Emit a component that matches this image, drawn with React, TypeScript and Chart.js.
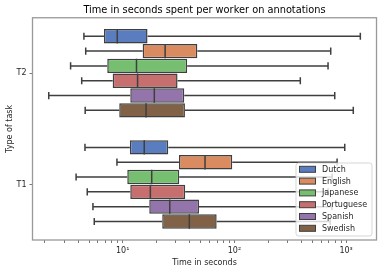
import React, { useEffect, useRef } from 'react';
import { Chart, registerables } from 'chart.js';

Chart.register(...registerables);

const chartTitle = 'Time in seconds spent per worker on annotations';
const xAxisTitle = 'Time in seconds';
const yAxisTitle = 'Type of task';

const tasks = ['T2', 'T1'];
const languages = ['Dutch', 'English', 'Japanese', 'Portuguese', 'Spanish', 'Swedish'];
const colors = ['#597dbf', '#da8b5f', '#76bf71', '#c76e6e', '#9475ab', '#826246'];

// T2 statistics per language
const lowT2 = [4.5, 4.67, 3.42, 4.3, 2.18, 4.62];
const q1T2 = [6.8, 15.1, 7.28, 8.14, 11.7, 9.32];
const medT2 = [8.95, 24.0, 13.3, 13.6, 19.2, 16.2];
const q3T2 = [16.7, 46.6, 37.8, 31.0, 35.6, 36.1];
const highT2 = [1340, 728, 689, 389, 791, 1159];

// T1 statistics per language
const lowT1 = [4.6, 8.89, 3.83, 4.82, 5.42, 5.57];
const q1T1 = [11.6, 31.9, 11.0, 11.7, 17.3, 22.6];
const medT1 = [15.6, 54.6, 18.2, 17.7, 26.4, 39.5];
const q3T1 = [25.6, 95.7, 32.1, 36.3, 48.2, 69.4];
const highT1 = [972, 830, 750, 690, 745, 720];

const xMin = 1.56;
const xMax = 1870;
const majorTicks = [10, 100, 1000];
const majorTickLabels = ['10¹', '10²', '10³'];
const minorTicks = [2, 3, 4, 5, 6, 7, 8, 9, 20, 30, 40, 50, 60, 70, 80, 90, 200, 300, 400, 500, 600, 700, 800, 900];

const EDGE = '#3f3f3f';
const FONT = 'DejaVu Sans';

const boxPlugin = {
  id: 'boxWhiskers',
  afterDatasetsDraw(chart: any) {
    const ctx = chart.ctx;
    const xs = chart.scales.x;
    chart.data.datasets.forEach((ds: any, i: number) => {
      const meta = chart.getDatasetMeta(i);
      meta.data.forEach((bar: any, j: number) => {
        const { y, height } = bar.getProps(['y', 'height'], true);
        const pLo = xs.getPixelForValue(ds.low[j]);
        const pQ1 = xs.getPixelForValue(ds.data[j][0]);
        const pQ3 = xs.getPixelForValue(ds.data[j][1]);
        const pHi = xs.getPixelForValue(ds.high[j]);
        const pMed = xs.getPixelForValue(ds.med[j]);
        const cap = height / 4;
        ctx.save();
        ctx.strokeStyle = EDGE;
        ctx.lineWidth = 1.5;
        ctx.beginPath();
        ctx.moveTo(pQ1, y);
        ctx.lineTo(pLo, y);
        ctx.moveTo(pLo, y - cap);
        ctx.lineTo(pLo, y + cap);
        ctx.moveTo(pQ3, y);
        ctx.lineTo(pHi, y);
        ctx.moveTo(pHi, y - cap);
        ctx.lineTo(pHi, y + cap);
        ctx.moveTo(pMed, y - height / 2);
        ctx.lineTo(pMed, y + height / 2);
        ctx.stroke();
        ctx.restore();
      });
    });
  },
};

const framePlugin = {
  id: 'frameAndLegend',
  afterDraw(chart: any) {
    const ctx = chart.ctx;
    const ca = chart.chartArea;
    ctx.save();
    ctx.strokeStyle = '#999999';
    ctx.lineWidth = 1.3;
    ctx.strokeRect(ca.left, ca.top, ca.right - ca.left, ca.bottom - ca.top);

    // legend
    const w = 76;
    const h = 73;
    const lx = ca.right - 4.5 - w;
    const ly = ca.bottom - 4 - h;
    ctx.beginPath();
    const r = 2.5;
    ctx.moveTo(lx + r, ly);
    ctx.lineTo(lx + w - r, ly);
    ctx.arcTo(lx + w, ly, lx + w, ly + r, r);
    ctx.lineTo(lx + w, ly + h - r);
    ctx.arcTo(lx + w, ly + h, lx + w - r, ly + h, r);
    ctx.lineTo(lx + r, ly + h);
    ctx.arcTo(lx, ly + h, lx, ly + h - r, r);
    ctx.lineTo(lx, ly + r);
    ctx.arcTo(lx, ly, lx + r, ly, r);
    ctx.closePath();
    ctx.fillStyle = 'rgba(255,255,255,0.8)';
    ctx.fill();
    ctx.strokeStyle = 'rgba(204,204,204,0.8)';
    ctx.lineWidth = 1;
    ctx.stroke();

    ctx.font = `8px "${FONT}"`;
    ctx.textBaseline = 'middle';
    ctx.textAlign = 'left';
    chart.data.datasets.forEach((ds: any, k: number) => {
      const cy = ly + 6.3 + k * 11.8;
      ctx.fillStyle = ds.backgroundColor;
      ctx.fillRect(lx + 3.5, cy - 3, 16, 6);
      ctx.strokeStyle = EDGE;
      ctx.lineWidth = 1;
      ctx.strokeRect(lx + 3.5, cy - 3, 16, 6);
      ctx.fillStyle = '#262626';
      ctx.fillText(ds.label, lx + 26, cy + 0.5);
    });
    ctx.restore();
  },
};

export default function App() {
  const canvasRef = useRef<HTMLCanvasElement | null>(null);

  useEffect(() => {
    document.body.style.margin = '0';
    const canvas = canvasRef.current;
    if (!canvas) return;

    const datasets = languages.map((lang, i) => ({
      label: lang,
      data: [
        [q1T2[i], q3T2[i]],
        [q1T1[i], q3T1[i]],
      ],
      low: [lowT2[i], lowT1[i]],
      med: [medT2[i], medT1[i]],
      high: [highT2[i], highT1[i]],
      backgroundColor: colors[i],
      borderColor: EDGE,
      borderWidth: 1.5,
      borderSkipped: false,
      categoryPercentage: 0.8,
      barPercentage: 0.97,
    }));

    const chart = new Chart(canvas, {
      type: 'bar',
      data: { labels: tasks, datasets: datasets as any },
      plugins: [boxPlugin, framePlugin],
      options: {
        indexAxis: 'y',
        animation: false,
        responsive: false,
        events: [],
        layout: { padding: { left: 0, right: 5.5, top: 0, bottom: 0 } },
        plugins: {
          legend: { display: false },
          tooltip: { enabled: false },
          title: {
            display: true,
            fullSize: false,
            text: chartTitle,
            color: '#000',
            font: { family: FONT, size: 9.8, weight: 'normal' },
            padding: { top: 4.5, bottom: 1.5 },
          },
        },
        scales: {
          x: {
            type: 'logarithmic',
            min: xMin,
            max: xMax,
            border: { display: false },
            grid: {
              drawOnChartArea: false,
              tickLength: 3,
              color: '#555',
              lineWidth: 0.8,
            },
            afterBuildTicks: (scale: any) => {
              scale.ticks = [...minorTicks, ...majorTicks]
                .sort((a, b) => a - b)
                .map((v) => ({ value: v, major: majorTicks.includes(v) }));
            },
            afterFit: (scale: any) => {
              scale.height = 33;
            },
            ticks: {
              autoSkip: false,
              maxRotation: 0,
              minRotation: 0,
              padding: 3,
              color: '#262626',
              font: { family: FONT, size: 8 },
              callback: (value: any) => {
                const idx = majorTicks.indexOf(Number(value));
                return idx >= 0 ? majorTickLabels[idx] : '';
              },
            },
            title: {
              display: true,
              text: xAxisTitle,
              color: '#262626',
              font: { family: FONT, size: 8 },
              padding: { top: 0, bottom: 5 },
            },
          },
          y: {
            type: 'category',
            border: { display: false },
            grid: {
              offset: false,
              drawOnChartArea: false,
              tickLength: 3,
              color: '#555',
              lineWidth: 0.8,
            },
            afterFit: (scale: any) => {
              scale.width = 32.5;
            },
            ticks: {
              padding: 3,
              color: '#262626',
              font: { family: FONT, size: 8 },
            },
            title: {
              display: true,
              text: yAxisTitle,
              color: '#262626',
              font: { family: FONT, size: 8 },
              padding: { top: 5, bottom: 0 },
            },
          },
        },
      } as any,
    });

    return () => chart.destroy();
  }, []);

  return (
    <div style={{ position: 'absolute', left: 0, top: 0, width: 382, height: 273 }}>
      <canvas ref={canvasRef} width={382} height={273} style={{ display: 'block' }} />
    </div>
  );
}
